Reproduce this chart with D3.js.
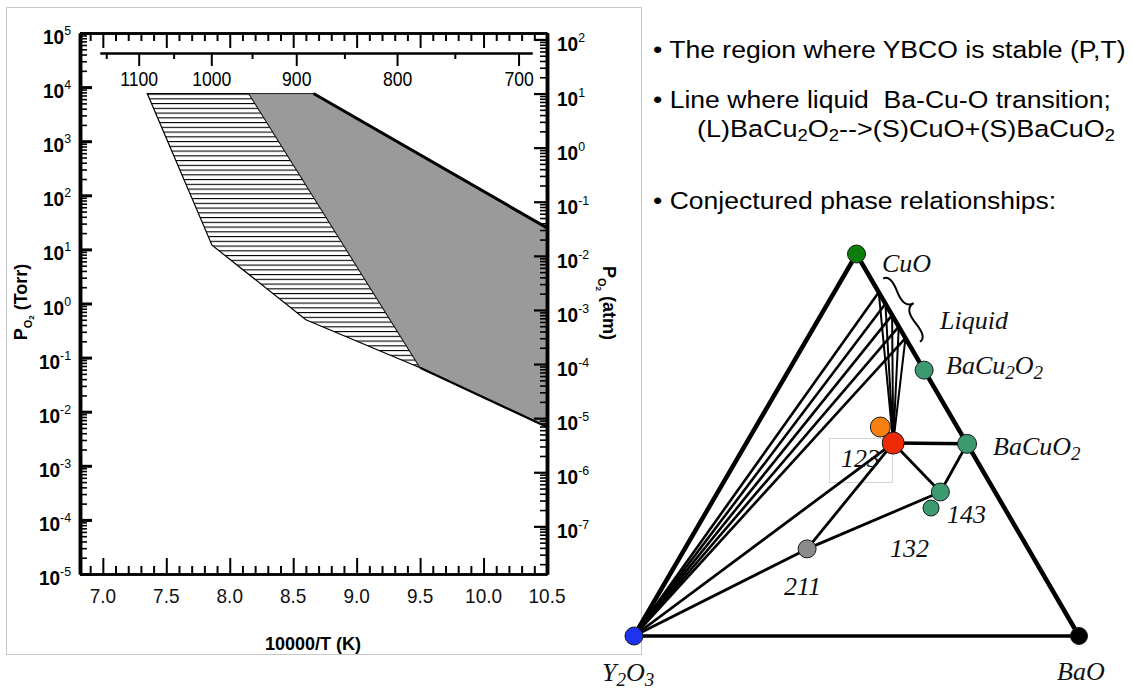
<!DOCTYPE html>
<html><head><meta charset="utf-8">
<script src="https://cdn.jsdelivr.net/npm/d3@7"></script>
<style>
body{margin:0;background:#fff;}
svg{display:block;}
.ax path,.ax line{stroke:#000;}
.tl{font-family:"Liberation Sans",Arial,sans-serif;fill:#000;}
.bt{font-family:"Liberation Sans",Arial,sans-serif;font-size:23.5px;fill:#000;white-space:pre;}
.tr{font-family:"Liberation Serif","Times New Roman",serif;font-style:italic;font-size:26px;fill:#111;}
</style></head><body>
<svg id="fig" width="1131" height="690"></svg>
<script>
// ---------- P(O2) vs 10000/T chart ----------
const invTDomain = [6.82, 10.5];
const torrDomain = [1e-5, 1e5];
const torrPerAtm = 760;
const invTMajor = [7.0, 7.5, 8.0, 8.5, 9.0, 9.5, 10.0, 10.5];
const torrExps = [5, 4, 3, 2, 1, 0, -1, -2, -3, -4, -5];
const atmExps = [2, 1, 0, -1, -2, -3, -4, -5, -6, -7];
const tempCMajor = [1100, 1000, 900, 800, 700];
const tempCMinor = [1150, 1050, 950, 850, 750];
const tempCSpan = [1160, 690];

// hatched band: [10000/T, P(Torr)]
const hatchInvT = [7.35, 8.15, 9.50, 8.60, 7.86];
const hatchTorr = [7600, 7600, 0.065, 0.5, 12];
// grey band
const greyInvT = [8.15, 8.66, 10.5, 10.5, 9.50];
const greyTorr = [7600, 7600, 25, 0.0052, 0.065];
// boundary lines drawn in black
const upperLineInvT = [8.66, 10.5];
const upperLineTorr = [7600, 25];
const lowerLineInvT = [9.50, 10.5];
const lowerLineTorr = [0.065, 0.0052];

// ---------- bullet text ----------
const bullets = [
  "The region where YBCO is stable (P,T)",
  "Line where liquid  Ba-Cu-O transition;",
  "Conjectured phase relationships:"
];

// ---------- ternary Y2O3 - BaO - CuO ----------
const phaseNames = ["CuO", "Y2O3", "BaO", "BaCu2O2", "BaCuO2", "123", "123b", "143", "132", "211"];
const phaseCu =    [1.00,  0.00,   0.00,  0.696,     0.503,    0.505, 0.547,  0.377, 0.335, 0.228];
const phaseBa =    [0.00,  0.00,   1.00,  0.304,     0.497,    0.33,  0.28,   0.50,  0.50,  0.275];
const phaseFill =  ["#0b7d0b", "#1d33ee", "#000000", "#3c9a70", "#3c9a70", "#ec2a05", "#f77f0f", "#3c9a70", "#3c9a70", "#8a8a8a"];
const phaseR =     [9, 9, 8.5, 9, 9.5, 11, 10, 9, 8, 9];
// liquid compositions on the CuO - BaCu2O2 join (CuO fraction)
const liquidCu = [0.90, 0.87, 0.84, 0.81, 0.78];
// tie lines [from, to, width]
const tieFrom = ["123", "123", "BaCuO2", "211", "211", "Y2O3", "Y2O3"];
const tieTo =   ["BaCuO2", "143", "143", "143", "123", "211", "123"];
const tieW =    [3.5, 2.8, 2.8, 2.8, 2.8, 2.8, 2.8];

const svg = d3.select("#fig");

// panel frame
svg.append("rect").attr("x", 6.5).attr("y", 7.5).attr("width", 635).attr("height", 647)
  .attr("fill", "none").attr("stroke", "#c8c8c8").attr("stroke-width", 1);

const x = d3.scaleLinear().domain(invTDomain).range([80, 547]);
const y = d3.scaleLog().domain(torrDomain).range([574, 33]);
const yAtm = d3.scaleLog().domain([torrDomain[0] / torrPerAtm, torrDomain[1] / torrPerAtm]).range([574, 33]);
const invT = c => 10000 / (c + 273.15);

const defs = svg.append("defs");
const hatchStep = 4.75;
const pat = defs.append("pattern").attr("id", "hatch").attr("patternUnits", "userSpaceOnUse")
  .attr("width", 20).attr("height", hatchStep).attr("y", y(hatchTorr[0]));
pat.append("rect").attr("width", 20).attr("height", hatchStep).attr("fill", "#fff");
pat.append("rect").attr("y", 0).attr("width", 20).attr("height", 1.1).attr("fill", "#000");

const line = d3.line().x(d => x(d[0])).y(d => y(d[1]));
const hatchPts = hatchInvT.map((v, i) => [v, hatchTorr[i]]);
const greyPts = greyInvT.map((v, i) => [v, greyTorr[i]]);

svg.append("path").attr("d", line(hatchPts) + "Z").attr("fill", "url(#hatch)")
  .attr("stroke", "#000").attr("stroke-width", 1.2);
svg.append("path").attr("d", line(greyPts) + "Z").attr("fill", "#9a9a9a")
  .attr("stroke", "#222").attr("stroke-width", 1);
svg.append("path").attr("d", line(upperLineInvT.map((v, i) => [v, upperLineTorr[i]])))
  .attr("fill", "none").attr("stroke", "#000").attr("stroke-width", 3);
svg.append("path").attr("d", line(lowerLineInvT.map((v, i) => [v, lowerLineTorr[i]])))
  .attr("fill", "none").attr("stroke", "#000").attr("stroke-width", 2.2);

// minor tick values
const torrMinor = [];
for (let e = -5; e < 5; e++) for (let m = 2; m <= 9; m++) torrMinor.push(m * Math.pow(10, e));
const atmMinor = [];
for (let e = -8; e < 3; e++) for (let m = 2; m <= 9; m++) {
  const v = m * Math.pow(10, e);
  if (v > yAtm.domain()[0] && v < yAtm.domain()[1]) atmMinor.push(v);
}
const invTMinor = d3.range(6.9, 10.5, 0.1).map(v => +v.toFixed(1)).filter(v => invTMajor.indexOf(v) < 0);

function styleAxis(g, w) {
  g.attr("class", "ax");
  g.selectAll(".tick line").attr("stroke-width", 2);
  g.select(".domain").attr("stroke-width", w);
  g.selectAll(".tick text").remove();
}

// left (Torr) axis, ticks inward
svg.append("g").attr("transform", "translate(80,0)")
  .call(d3.axisRight(y).tickValues(torrMinor).tickSize(7).tickSizeOuter(0).tickFormat(""))
  .call(g => { styleAxis(g, 3.5); g.selectAll(".tick line").attr("stroke-width", 1.6); });
svg.append("g").attr("transform", "translate(80,0)")
  .call(d3.axisRight(y).tickValues(torrExps.map(e => Math.pow(10, e))).tickSize(12).tickSizeOuter(0))
  .call(g => { styleAxis(g, 3.5); g.selectAll(".tick line").attr("stroke-width", 3); });
// right (atm) axis
svg.append("g").attr("transform", "translate(547,0)")
  .call(d3.axisLeft(yAtm).tickValues(atmMinor).tickSize(7).tickSizeOuter(0).tickFormat(""))
  .call(g => { styleAxis(g, 3.5); g.selectAll(".tick line").attr("stroke-width", 1.6); });
svg.append("g").attr("transform", "translate(547,0)")
  .call(d3.axisLeft(yAtm).tickValues(atmExps.map(e => Math.pow(10, e))).tickSize(13).tickSizeOuter(0))
  .call(g => { styleAxis(g, 3.5); g.selectAll(".tick line").attr("stroke-width", 2.2); });
// bottom axis
svg.append("g").attr("transform", "translate(0,574)")
  .call(d3.axisTop(x).tickValues(invTMinor).tickSize(8).tickSizeOuter(0).tickFormat(""))
  .call(g => styleAxis(g, 2.5));
svg.append("g").attr("transform", "translate(0,574)")
  .call(d3.axisTop(x).tickValues(invTMajor).tickSize(16).tickSizeOuter(0))
  .call(g => styleAxis(g, 2.5));
// top frame
svg.append("g").attr("transform", "translate(0,33)")
  .call(d3.axisBottom(x).tickValues(invTMinor).tickSize(8).tickSizeOuter(0).tickFormat(""))
  .call(g => styleAxis(g, 2.5));
svg.append("g").attr("transform", "translate(0,33)")
  .call(d3.axisBottom(x).tickValues(invTMajor).tickSize(15).tickSizeOuter(0))
  .call(g => styleAxis(g, 2.5));
// temperature (deg C) axis inside the frame
const xTop = x.copy().domain(tempCSpan.map(invT)).range(tempCSpan.map(c => x(invT(c))));
svg.append("g").attr("transform", "translate(0,53)")
  .call(d3.axisBottom(xTop).tickValues(tempCMinor.map(invT)).tickSize(6).tickSizeOuter(0).tickFormat(""))
  .call(g => styleAxis(g, 2));
const topAx = svg.append("g").attr("transform", "translate(0,53)")
  .call(d3.axisBottom(xTop).tickValues(tempCMajor.map(invT)).tickSize(13).tickSizeOuter(0)
    .tickFormat(v => Math.round(10000 / v - 273.15)));
topAx.attr("class", "ax");
topAx.selectAll(".tick line").attr("stroke-width", 2);
topAx.select(".domain").attr("stroke-width", 2);
topAx.selectAll(".tick text").attr("class", "tl").attr("font-size", 20).attr("y", 0).attr("dy", 0)
  .attr("transform", "translate(0,33) scale(0.88,1)").attr("fill", "#222");

// tick labels
const lab = svg.append("g").attr("class", "tl");
function powLabel(px, py, exp, anchor) {
  const t = lab.append("text").attr("transform", `translate(${px},${py}) scale(0.95,1)`)
    .attr("text-anchor", anchor).attr("font-size", 20).attr("font-weight", "bold");
  t.append("tspan").text("10");
  t.append("tspan").attr("dy", -9).attr("font-size", 13).attr("font-weight", "normal").text(exp);
}
torrExps.forEach(e => powLabel(71, y(Math.pow(10, e)) + 11, e, "end"));
atmExps.forEach(e => powLabel(557, yAtm(Math.pow(10, e)) + 12, e, "start"));
invTMajor.forEach(v => {
  lab.append("text").attr("transform", `translate(${x(v)},603) scale(0.95,1)`)
    .attr("text-anchor", "middle").attr("font-size", 20).attr("fill", "#111").text(v.toFixed(1));
});

// axis titles
lab.append("text").attr("transform", "translate(313,650) scale(0.95,1)").attr("text-anchor", "middle")
  .attr("font-size", 19).attr("font-weight", "bold").text("10000/T (K)");
const yt = lab.append("text").attr("transform", "translate(27,302) rotate(-90)").attr("text-anchor", "middle")
  .attr("font-size", 18).attr("font-weight", "bold");
yt.append("tspan").text("P");
yt.append("tspan").attr("font-size", 11).attr("dy", 5).text("O");
yt.append("tspan").attr("font-size", 8).attr("dy", 2).text("2");
yt.append("tspan").attr("dy", -7).text(" (Torr)");
const yt2 = lab.append("text").attr("transform", "translate(603,303) rotate(90)").attr("text-anchor", "middle")
  .attr("font-size", 18).attr("font-weight", "bold");
yt2.append("tspan").text("P");
yt2.append("tspan").attr("font-size", 11).attr("dy", 5).text("O");
yt2.append("tspan").attr("font-size", 8).attr("dy", 2).text("2");
yt2.append("tspan").attr("dy", -7).text(" (atm)");

// ---------- bullet list ----------
const bl = svg.append("g").attr("class", "bt");
const bulletY = [58, 108, 209];
bullets.forEach((s, i) => bl.append("text").attr("xml:space", "preserve")
  .attr("transform", `translate(653,${bulletY[i]}) scale(1.13,1)`).text("\u2022 " + s));
const eq = bl.append("text").attr("transform", "translate(697,137) scale(1.15,1)");
[["(L)BaCu", 0], ["2", 1], ["O", 0], ["2", 1], ["-->(S)CuO+(S)BaCuO", 0], ["2", 1]].forEach(([s, sub]) => {
  eq.append("tspan").attr("font-size", sub ? 16 : 23.5).attr("baseline-shift", sub ? "-25%" : null).text(s);
});

// ---------- ternary diagram ----------
const triX = d3.scaleLinear().domain([0, 1]).range([634, 1079]);
const triY = d3.scaleLinear().domain([0, 1]).range([636, 254]);
const pos = name => {
  const i = phaseNames.indexOf(name);
  return [triX(phaseBa[i] + phaseCu[i] / 2), triY(phaseCu[i])];
};
const posCu = cu => [triX((1 - cu) + cu / 2), triY(cu)];
const tri = svg.append("g");

// box around the 123 label
tri.append("rect").attr("x", 829.5).attr("y", 438.5).attr("width", 63).attr("height", 44)
  .attr("fill", "none").attr("stroke", "#d4d4d4").attr("stroke-width", 1);

// liquid tie lines
liquidCu.forEach(cu => {
  const p = posCu(cu);
  tri.append("line").attr("x1", pos("Y2O3")[0]).attr("y1", pos("Y2O3")[1]).attr("x2", p[0]).attr("y2", p[1])
    .attr("stroke", "#000").attr("stroke-width", 2.6);
  tri.append("line").attr("x1", pos("123")[0]).attr("y1", pos("123")[1]).attr("x2", p[0]).attr("y2", p[1])
    .attr("stroke", "#000").attr("stroke-width", 2);
});
tieFrom.forEach((f, i) => {
  const a = pos(f), b = pos(tieTo[i]);
  tri.append("line").attr("x1", a[0]).attr("y1", a[1]).attr("x2", b[0]).attr("y2", b[1])
    .attr("stroke", "#000").attr("stroke-width", tieW[i]);
});
// triangle edges
const edge = (a, b, w) => tri.append("line").attr("x1", pos(a)[0]).attr("y1", pos(a)[1])
  .attr("x2", pos(b)[0]).attr("y2", pos(b)[1]).attr("stroke", "#000").attr("stroke-width", w).attr("stroke-linecap", "round");
edge("CuO", "Y2O3", 4.5);
edge("CuO", "BaO", 4.5);
edge("Y2O3", "BaO", 3.5);

// liquid brace
function brace(x1, y1, x2, y2, w, q) {
  const len = Math.hypot(x1 - x2, y1 - y2), dx = (x1 - x2) / len, dy = (y1 - y2) / len;
  const qx1 = x1 + q * w * dy, qy1 = y1 - q * w * dx;
  const qx2 = (x1 - .25 * len * dx) + (1 - q) * w * dy, qy2 = (y1 - .25 * len * dy) - (1 - q) * w * dx;
  const tx1 = (x1 - .5 * len * dx) + w * dy, ty1 = (y1 - .5 * len * dy) - w * dx;
  const qx3 = x2 + q * w * dy, qy3 = y2 - q * w * dx;
  const qx4 = (x1 - .75 * len * dx) + (1 - q) * w * dy, qy4 = (y1 - .75 * len * dy) - (1 - q) * w * dx;
  return `M${x1},${y1}Q${qx1},${qy1} ${qx2},${qy2}T${tx1},${ty1}M${x2},${y2}Q${qx3},${qy3} ${qx4},${qy4}T${tx1},${ty1}`;
}
const b1 = posCu(0.925), b2 = posCu(0.76);
tri.append("path").attr("d", brace(b2[0] + 10, b2[1] - 4, b1[0] + 10, b1[1] - 4, 14, 0.6))
  .attr("fill", "none").attr("stroke", "#000").attr("stroke-width", 2);

// phase points
phaseNames.forEach((n, i) => {
  const p = pos(n);
  tri.append("circle").attr("cx", p[0]).attr("cy", p[1]).attr("r", phaseR[i])
    .attr("fill", phaseFill[i]).attr("stroke", "#1a1a1a").attr("stroke-width", 1);
});

// labels
function chem(px, py, parts) {
  const t = tri.append("text").attr("class", "tr").attr("x", px).attr("y", py);
  parts.forEach(([s, sub]) => t.append("tspan").attr("font-size", sub ? 19 : 26)
    .attr("baseline-shift", sub ? "-28%" : null).text(s));
}
chem(882, 272, [["CuO", 0]]);
chem(940, 329, [["Liquid", 0]]);
chem(946, 374, [["BaCu", 0], ["2", 1], ["O", 0], ["2", 1]]);
chem(993, 455, [["BaCuO", 0], ["2", 1]]);
chem(841, 467, [["123", 0]]);
chem(947, 523, [["143", 0]]);
chem(890, 557, [["132", 0]]);
chem(784, 595, [["211", 0]]);
chem(602, 681, [["Y", 0], ["2", 1], ["O", 0], ["3", 1]]);
chem(1057, 680, [["BaO", 0]]);
</script></body></html>
